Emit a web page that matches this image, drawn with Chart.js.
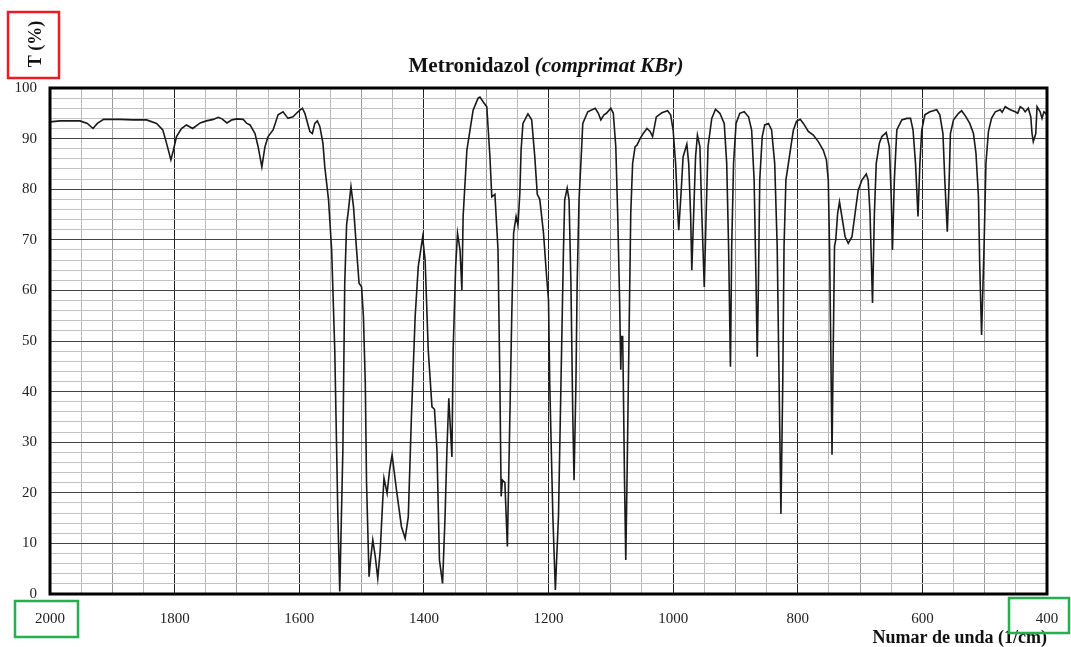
<!DOCTYPE html>
<html>
<head>
<meta charset="utf-8">
<title>Metronidazol IR</title>
<script src="https://cdn.jsdelivr.net/npm/chart.js@4.4.0/dist/chart.umd.min.js"></script>
<style>
  html, body { margin: 0; padding: 0; background: #fff; }
  canvas { display: block; }
</style>
</head>
<body>
<canvas id="chart" width="1071" height="647"></canvas>
<script>
// IR spectrum of metronidazole, KBr pellet (wavenumber in 1/cm, transmittance in %)
const wavenumbers = [
  2000, 1984, 1968, 1952, 1940, 1931, 1924, 1914, 1888, 1866, 1845, 1829, 1819, 1813, 1806, 1802,
  1797, 1789, 1781, 1771, 1759, 1749, 1738, 1730, 1724, 1716, 1708, 1700, 1690, 1684, 1679, 1671,
  1666, 1660, 1655, 1650, 1642, 1634, 1626, 1618, 1610, 1602, 1595, 1591, 1583, 1579, 1575, 1571,
  1567, 1562, 1559, 1553, 1548, 1543, 1538, 1535, 1530, 1527, 1524, 1521, 1517, 1513, 1508, 1504,
  1500, 1497, 1494, 1492, 1488, 1485, 1482, 1478, 1474, 1470, 1466, 1464, 1459, 1455, 1451, 1444,
  1436, 1430, 1425, 1420, 1414, 1409, 1402, 1398, 1393, 1387, 1383, 1379, 1375, 1370, 1366, 1363,
  1360, 1355, 1353, 1349, 1346, 1342, 1339, 1337, 1331, 1321, 1313, 1310, 1305, 1299, 1294, 1291,
  1286, 1281, 1278, 1276, 1274, 1270, 1266, 1263, 1259, 1256, 1252, 1249, 1246, 1244, 1241, 1233,
  1227, 1222, 1218, 1214, 1208, 1203, 1200, 1198, 1193, 1189, 1184, 1180, 1176, 1174, 1170, 1167,
  1164, 1161, 1159, 1156, 1154, 1151, 1147, 1145, 1137, 1125, 1120, 1116, 1111, 1107, 1100, 1096,
  1092, 1089, 1086, 1084, 1083, 1081, 1080, 1078, 1076, 1074, 1071, 1068, 1065, 1061, 1058, 1053,
  1048, 1042, 1037, 1033, 1027, 1018, 1009, 1004, 1000, 996, 993, 991, 987, 984, 978, 975,
  972, 970, 967, 964, 961, 957, 954, 950, 947, 944, 938, 932, 925, 918, 914, 911,
  908, 906, 903, 899, 893, 886, 879, 874, 870, 867, 865, 863, 861, 857, 853, 847,
  842, 837, 833, 830, 827, 824, 822, 819, 815, 811, 807, 802, 796, 791, 783, 775,
  767, 759, 754, 751, 749, 747, 745, 743, 741, 739, 736, 733, 730, 724, 719, 713,
  708, 703, 697, 690, 687, 684, 680, 677, 674, 669, 665, 658, 653, 650, 648, 645,
  641, 633, 625, 619, 615, 611, 607, 604, 601, 596, 588, 577, 572, 567, 564, 560,
  557, 555, 550, 542, 537, 530, 524, 518, 514, 510, 508, 505, 501, 498, 494, 489,
  483, 475, 472, 467, 463, 459, 451, 447, 443, 439, 435, 430, 426, 424, 422, 418,
  416, 411, 408, 405, 402, 400
];

const transmittance = [
  93.3, 93.5, 93.5, 93.5, 93.0, 92.0, 93.0, 93.8, 93.8, 93.7, 93.7, 93.0, 91.7, 89.1, 85.8, 87.7,
  90.4, 92.0, 92.7, 92.0, 93.1, 93.5, 93.8, 94.2, 93.9, 93.1, 93.7, 93.9, 93.8, 93.0, 92.7, 91.0,
  88.4, 84.4, 88.4, 90.4, 91.7, 94.7, 95.3, 94.0, 94.3, 95.3, 96.0, 95.0, 91.4, 91.0, 93.0, 93.5,
  92.4, 89.1, 84.4, 77.9, 68.0, 48.2, 15.3, 0.5, 28.5, 61.4, 73.0, 75.9, 80.5, 76.6, 68.0, 61.4,
  60.7, 54.8, 41.6, 21.9, 3.4, 7.4, 10.7, 7.4, 3.1, 8.7, 18.6, 22.9, 19.9, 24.5, 27.5, 20.6,
  13.3, 11.0, 15.3, 35.0, 54.8, 64.7, 70.5, 66.0, 48.2, 37.0, 36.5, 28.5, 6.7, 2.1, 15.3, 28.5,
  38.7, 27.1, 48.2, 64.7, 71.3, 68.0, 60.1, 74.6, 87.7, 95.6, 98.0, 98.2, 97.3, 96.3, 86.4, 78.5,
  79.0, 68.0, 41.6, 19.3, 22.5, 22.0, 9.4, 28.5, 54.8, 71.3, 74.6, 72.9, 79.2, 87.7, 93.0, 94.9,
  93.7, 86.4, 79.0, 78.0, 71.3, 62.7, 58.1, 41.6, 15.3, 0.8, 15.3, 41.6, 68.0, 77.9, 80.2, 77.9,
  61.4, 35.0, 22.5, 41.6, 61.4, 77.9, 87.7, 93.0, 95.3, 96.0, 95.0, 93.7, 94.7, 95.0, 96.0, 95.0,
  88.4, 75.2, 58.8, 44.3, 50.9, 50.9, 42.3, 22.5, 6.7, 22.5, 48.9, 75.2, 85.1, 88.4, 88.7, 90.0,
  91.0, 92.0, 91.4, 90.4, 94.3, 95.1, 95.5, 94.7, 91.7, 85.1, 76.6, 71.9, 79.8, 86.4, 88.9, 85.1,
  75.2, 64.0, 75.2, 86.4, 90.7, 88.4, 75.2, 60.7, 75.2, 88.4, 94.0, 95.8, 95.0, 93.0, 85.1, 68.7,
  44.9, 68.7, 85.1, 93.0, 95.0, 95.3, 94.3, 91.7, 81.8, 62.0, 46.9, 62.0, 81.8, 90.4, 92.7, 93.0,
  91.7, 85.1, 68.7, 42.3, 15.8, 42.3, 68.7, 81.8, 85.1, 88.4, 91.7, 93.4, 93.8, 93.0, 91.4, 90.7,
  89.4, 87.7, 85.8, 81.8, 68.7, 48.9, 27.5, 48.9, 68.7, 70.0, 75.2, 77.5, 75.2, 70.6, 69.3, 70.6,
  75.2, 79.8, 81.8, 83.0, 81.8, 75.2, 57.5, 75.2, 85.1, 89.1, 90.4, 91.2, 88.4, 78.5, 68.0, 81.8,
  91.7, 93.7, 94.0, 94.0, 91.7, 85.1, 74.6, 85.1, 91.7, 94.7, 95.3, 95.7, 94.7, 91.0, 81.8, 71.6,
  81.8, 91.0, 93.7, 95.0, 95.5, 94.3, 93.0, 91.0, 87.1, 78.5, 65.3, 51.2, 68.7, 85.1, 91.4, 94.0,
  95.3, 95.7, 95.2, 96.3, 96.0, 95.7, 95.3, 95.0, 96.3, 96.0, 95.3, 96.0, 94.3, 91.0, 89.4, 91.0,
  96.3, 95.3, 94.0, 95.3, 95.0, 94.5
];

const xTickLabels = [2000, 1800, 1600, 1400, 1200, 1000, 800, 600, 400];
const yTickLabels = [0, 10, 20, 30, 40, 50, 60, 70, 80, 90, 100];

const serif = '"Liberation Serif", "Times New Roman", serif';

const points = wavenumbers.map((w, i) => ({ x: w, y: transmittance[i] }));

// title, axis titles, heavy frame and the highlight boxes
const decorations = {
    id: "decorations",
    afterDraw(chart) {
        const { ctx, chartArea: a } = chart;
        ctx.save();

        // title: bold name + bold italic note
        const t1 = "Metronidazol ";
        const t2 = "(comprimat KBr)";
        ctx.font = `bold 21px ${serif}`;
        const w1 = ctx.measureText(t1).width;
        ctx.font = `italic bold 21px ${serif}`;
        const w2 = ctx.measureText(t2).width;
        const tx = 546 - (w1 + w2) / 2;
        ctx.fillStyle = "#111";
        ctx.textBaseline = "middle";
        ctx.textAlign = "left";
        ctx.font = `bold 21px ${serif}`;
        ctx.fillText(t1, tx, 67);
        ctx.font = `italic bold 21px ${serif}`;
        ctx.fillText(t2, tx + w1, 67);

        // x axis title
        ctx.font = `bold 18px ${serif}`;
        ctx.textAlign = "right";
        ctx.fillText("Numar de unda (1/cm)", a.right, 638);

        // y axis title, rotated
        ctx.save();
        ctx.translate(36, 44);
        ctx.rotate(-Math.PI / 2);
        ctx.textAlign = "center";
        ctx.font = `bold 18px ${serif}`;
        ctx.fillText("T (%)", 0, 0);
        ctx.restore();

        // frame
        ctx.strokeStyle = "#000";
        ctx.lineWidth = 3;
        ctx.strokeRect(a.left, a.top, a.right - a.left, a.bottom - a.top);

        // highlight boxes
        ctx.lineWidth = 2.5;
        ctx.strokeStyle = "#ec1c24";
        ctx.strokeRect(8, 12, 51, 66);
        ctx.strokeStyle = "#22b14c";
        ctx.strokeRect(15, 601, 63, 36);
        ctx.strokeRect(1009, 598, 60, 35);

        ctx.restore();
    }
};

const ctx = document.getElementById("chart").getContext("2d");
new Chart(ctx, {
    type: "line",
    data: {
        datasets: [{
            data: points,
            borderColor: "#1a1a1a",
            borderWidth: 1.6,
            pointRadius: 0,
            tension: 0,
            fill: false
        }]
    },
    options: {
        responsive: false,
        animation: false,
        events: [],
        layout: { padding: { top: 88, right: 24, left: 0, bottom: 0 } },
        plugins: {
            legend: { display: false },
            tooltip: { enabled: false }
        },
        scales: {
            x: {
                type: "linear",
                reverse: true,
                min: 400,
                max: 2000,
                afterFit: scale => {
                    scale.height = 53;
                    scale.paddingLeft = 0;
                    scale.paddingRight = 0;
                },
                border: { display: false },
                grid: {
                    drawTicks: false,
                    lineWidth: 1,
                    color: c => {
                        const v = c.tick.value;
                        if (v % 200 === 0) return "#222";
                        if (v % 100 === 0) return "#9a9a9a";
                        return "#b8b8b8";
                    }
                },
                ticks: {
                    stepSize: 50,
                    autoSkip: false,
                    maxRotation: 0,
                    padding: 16,
                    color: "#222",
                    font: { family: serif, size: 15 },
                    callback: v => xTickLabels.includes(v) ? String(v) : ""
                }
            },
            y: {
                min: 0,
                max: 100,
                afterFit: scale => { scale.width = 50; },
                border: { display: false },
                grid: {
                    drawTicks: false,
                    lineWidth: 1,
                    color: c => c.tick.value % 10 === 0 ? "#444" : "#c2c2c2"
                },
                ticks: {
                    stepSize: 2,
                    autoSkip: false,
                    padding: 13,
                    color: "#222",
                    font: { family: serif, size: 15 },
                    callback: v => yTickLabels.includes(v) ? String(v) : ""
                }
            }
        }
    },
    plugins: [decorations]
});
</script>
</body>
</html>
